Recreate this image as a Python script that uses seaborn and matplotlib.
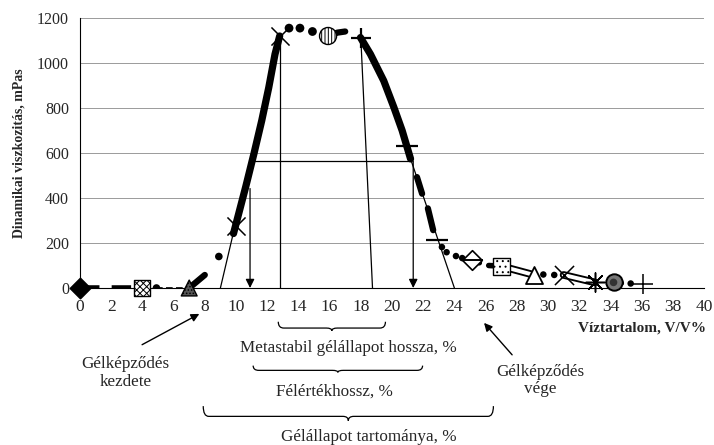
import numpy as np
import matplotlib
matplotlib.use("Agg")
import matplotlib.pyplot as plt
from matplotlib.path import Path
from matplotlib.patches import PathPatch
import seaborn as sns

# ---- data ----
# rising flank (thick curve) and falling flank
rise_x = [9.84, 10.62, 11.15, 11.65, 12.1, 12.5, 12.8]
rise_y = [242, 449, 597, 744, 891, 1039, 1120]
fall_x = [17.98, 18.62, 19.47, 20.12, 20.65, 21.19]
fall_y = [1113, 1039, 921, 803, 700, 574]
fall_dash_x = [[21.6, 21.93], [22.3, 22.64]]
fall_dash_y = [[493, 419], [354, 257]]

# plateau
top_dot_x = [13.4, 14.1, 14.9]
top_dot_y = [1155, 1155, 1140]
top_seg_x = [15.9, 16.5, 17.0]
top_seg_y = [1120, 1135, 1140]

# low water content side
start_dash_x = [0, 4]
start_dash_y = [0, 0]
start_thin_x = [4.9, 7]
start_thin_y = [0, 0]
start_rise_x = [7, 8]
start_rise_y = [0, 58]
low_dot_x = [4.9, 8.9]
low_dot_y = [0, 140]

# high water content side
tail_dot_x = [23.2, 23.5, 24.1, 24.5, 29.7, 30.4, 35.3]
tail_dot_y = [182, 159, 142, 133, 60, 58, 20]
tail_thick_x = [[25.1, 25.6], [26.2, 27.0], [34.2, 34.7]]
tail_thick_y = [[124, 112], [100, 97], [25, 22]]
double_x = [[27.0, 29.1], [31.0, 33.0]]
double_y = [[97, 58], [58, 25]]

# series markers
mk_x = [0, 4, 7, 10.03, 12.8, 15.9, 18.0, 20.93, 22.9, 25.1, 27.0, 29.1, 31.0, 33.0, 34.2, 36.1]
mk_y = [0, 0, 0, 275, 1120, 1120, 1113, 633, 215, 124, 97, 58, 58, 25, 25, 18]

# construction lines
left_tangent = ([9.0, 12.8], [0, 1120])
right_tangent = ([21.19, 24.0], [574, 0])
half_level = 564
half_left, half_right = 10.9, 21.36
meta_left, meta_right = 12.8, 18.75

# braces (x ranges)
brace_meta = (12.71, 19.58)
brace_half = (11.1, 21.96)
brace_gel = (7.9, 26.5)

sns.set_style("white")
plt.rcParams["font.family"] = ["Liberation Serif", "DejaVu Serif"]
plt.rcParams["hatch.linewidth"] = 0.7

fig = plt.figure(figsize=(7.14, 4.45), dpi=100)
ax = fig.add_axes([80 / 714, 157 / 445, 624 / 714, 270 / 445])
ax.set_xlim(0, 40)
ax.set_ylim(0, 1200)
ax.set_xticks(np.arange(0, 41, 2))
ax.set_yticks(np.arange(0, 1201, 200))
ax.yaxis.grid(True, color="#9a9a9a", lw=0.7)
ax.set_axisbelow(True)
for s in ["top", "right"]:
    ax.spines[s].set_visible(False)
for s in ["left", "bottom"]:
    ax.spines[s].set_color("black")
    ax.spines[s].set_linewidth(0.8)
ax.tick_params(axis="x", direction="out", length=4, width=0.8, labelsize=12.5, pad=4, color="black")
ax.tick_params(axis="y", length=0, labelsize=11.5, pad=8)

ax.set_ylabel("Dinamikai viszkozitás, mPas", fontsize=10, fontweight="bold")
ax.yaxis.set_label_coords(-0.088, 0.5)

# construction lines
ax.plot(*left_tangent, color="black", lw=0.9)
ax.plot(*right_tangent, color="black", lw=0.9)
ax.plot([meta_left, meta_left], [0, 1120], color="black", lw=0.9)
ax.plot([18.0, meta_right], [1113, 0], color="black", lw=0.9)
ax.plot([11.24, 21.19], [half_level, half_level], color="black", lw=0.9)
for xa, ytop in [(half_left, 442), (half_right, half_level)]:
    ax.annotate("", xy=(xa, 0), xytext=(xa, ytop),
                arrowprops=dict(arrowstyle="-|>", color="black", lw=0.9,
                                mutation_scale=13, shrinkA=0, shrinkB=0))

# curves
line_kw = dict(ax=ax, color="black", sort=False, estimator=None)
sns.lineplot(x=rise_x, y=rise_y, lw=5.2, **line_kw)
sns.lineplot(x=fall_x, y=fall_y, lw=5.2, **line_kw)
sns.lineplot(x=top_seg_x, y=top_seg_y, lw=4.5, **line_kw)
sns.lineplot(x=start_rise_x, y=start_rise_y, lw=4.5, **line_kw)
for xs, ys in zip(fall_dash_x, fall_dash_y):
    ax.plot(xs, ys, color="black", lw=4.5, solid_capstyle="round")
ax.plot(start_dash_x, start_dash_y, color="black", lw=4, dashes=(3.5, 2.2))
ax.plot(start_thin_x, start_thin_y, color="black", lw=1.2, dashes=(4, 2))
for xs, ys in zip(tail_thick_x, tail_thick_y):
    ax.plot(xs, ys, color="black", lw=4, solid_capstyle="round")
for xs, ys in zip(double_x, double_y):
    ax.plot(xs, ys, color="black", lw=5.5)
    ax.plot(xs, ys, color="white", lw=2.8)

sns.scatterplot(x=top_dot_x, y=top_dot_y, ax=ax, color="black", s=40, edgecolor="none")
sns.scatterplot(x=low_dot_x, y=low_dot_y, ax=ax, color="black", s=30, edgecolor="none")
sns.scatterplot(x=tail_dot_x, y=tail_dot_y, ax=ax, color="black", s=22, edgecolor="none")

# markers (one style per series)
styles = [
    dict(marker="D", s=110, fc="black", ec="black"),
    dict(marker="s", s=130, fc="white", ec="black", hatch="xxxxx"),
    dict(marker="^", s=130, fc="#555555", ec="black", hatch="....."),
    dict(marker="x", s=170, c="black", linewidths=1.1),
    dict(marker="x", s=170, c="black", linewidths=1.1),
    dict(marker="o", s=150, fc="white", ec="black", hatch="|||||"),
    dict(marker="+", s=200, c="black", linewidths=1.6),
    dict(marker="_", s=250, c="black", linewidths=1.6),
    dict(marker="_", s=250, c="black", linewidths=1.6),
    dict(marker="D", s=100, fc="white", ec="black", linewidths=1.2),
    dict(marker="s", s=150, fc="white", ec="black", hatch="..."),
    dict(marker="^", s=150, fc="white", ec="black", linewidths=1.3),
    dict(marker="x", s=190, c="black", linewidths=1.1),
    dict(marker=(8, 2, 0), s=190, c="black", linewidths=1.1),
    dict(marker="o", s=140, fc="#777777", ec="black", linewidths=1.4),
    dict(marker="+", s=220, c="black", linewidths=1.1),
]
for xv, yv, st in zip(mk_x, mk_y, styles):
    ax.scatter([xv], [yv], zorder=5, clip_on=False, **st)
ax.scatter([25.1], [124], marker="_", s=260, c="black", linewidths=1.4, zorder=6)
ax.scatter([34.2], [25], marker="o", s=30, fc="#333333", ec="none", zorder=6)


def brace(x0, x1, ytop, ybot):
    xm = (x0 + x1) / 2
    yl = ytop + 0.7 * (ybot - ytop)
    r = 0.35
    verts = [(x0, ytop), (x0, yl), (x0 + r, yl), (xm - r, yl), (xm, yl), (xm, ybot),
             (xm, yl), (xm + r, yl), (x1 - r, yl), (x1, yl), (x1, ytop)]
    codes = [Path.MOVETO, Path.CURVE3, Path.CURVE3, Path.LINETO, Path.CURVE3, Path.CURVE3,
             Path.CURVE3, Path.CURVE3, Path.LINETO, Path.CURVE3, Path.CURVE3]
    ax.add_patch(PathPatch(Path(verts, codes), fc="none", ec="black", lw=0.9, clip_on=False))


brace(*brace_meta, -150, -190)
brace(*brace_half, -345, -375)
brace(*brace_gel, -525, -590)

txt = dict(ha="center", va="center", fontsize=12.3, clip_on=False)
ax.text(17.2, -266, "Metastabil gélállapot hossza, %", **txt)
ax.text(16.3, -460, "Félértékhossz, %", **txt)
ax.text(18.5, -664, "Gélállapot tartománya, %", **txt)
ax.text(2.9, -378, "Gélképződés\nkezdete", linespacing=1.1, **txt)
ax.text(29.5, -412, "Gélképződés\nvége", linespacing=1.1, **txt)
ax.text(40.1, -177, "Víztartalom, V/V%", ha="right", va="center", fontsize=11,
        fontweight="bold", clip_on=False)

arrow = dict(arrowstyle="-|>", color="black", lw=1, mutation_scale=12, shrinkA=0, shrinkB=0)
ax.annotate("", xy=(7.65, -115), xytext=(3.98, -252), arrowprops=arrow, annotation_clip=False)
ax.annotate("", xy=(25.9, -155), xytext=(27.7, -297), arrowprops=arrow, annotation_clip=False)

fig.savefig("out.png", dpi=100)
